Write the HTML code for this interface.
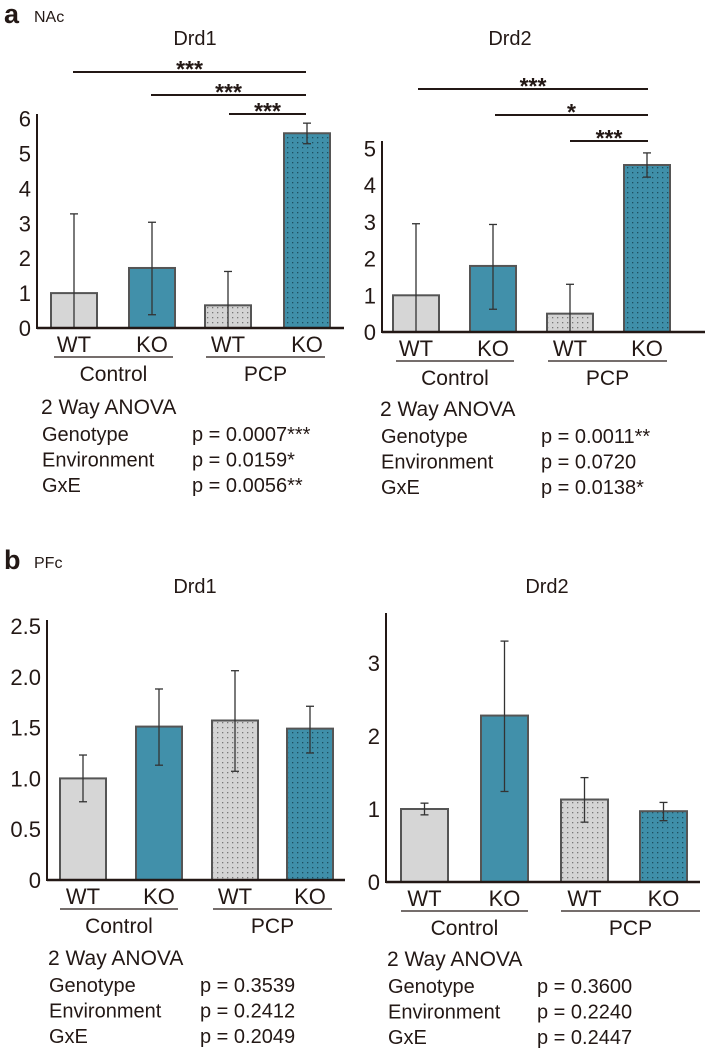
<!DOCTYPE html>
<html><head><meta charset="utf-8"><style>
html,body{margin:0;padding:0;background:#fff;}
svg{display:block;font-family:"Liberation Sans",Arial,sans-serif;}
</style></head><body>
<svg id="fig" width="708" height="1059" viewBox="0 0 708 1059" xmlns="http://www.w3.org/2000/svg">
<defs>
<pattern id="dotG" width="5" height="5" patternUnits="userSpaceOnUse"><rect width="5" height="5" fill="#d4d4d4"/><rect x="2" y="2" width="1.3" height="1.3" fill="#777"/></pattern>
<pattern id="dotB" width="5" height="5" patternUnits="userSpaceOnUse"><rect width="5" height="5" fill="#3f8fa9"/><rect x="2" y="2" width="1.3" height="1.3" fill="#1d4f60"/></pattern>
</defs>
<text x="4" y="23" font-size="27" font-weight="bold" fill="#231815">a</text>
<text x="34" y="22" font-size="16" fill="#231815">NAc</text>
<text x="4" y="569" font-size="27" font-weight="bold" fill="#231815">b</text>
<text x="34" y="568" font-size="16" fill="#231815">PFc</text>
</svg>
<script>
const groups = ["WT","KO","WT","KO"];
const nacDrd1Values = [1.0, 1.72, 0.65, 5.58];
const nacDrd1ErrLo = [0.0, 0.38, 0.0, 5.28];
const nacDrd1ErrHi = [3.27, 3.03, 1.62, 5.87];
const nacDrd1Ticks = ["0","1","2","3","4","5","6"];
const nacDrd2Values = [1.0, 1.8, 0.5, 4.55];
const nacDrd2ErrLo = [0.0, 0.62, 0.0, 4.22];
const nacDrd2ErrHi = [2.95, 2.93, 1.3, 4.88];
const nacDrd2Ticks = ["0","1","2","3","4","5"];
const pfcDrd1Values = [1.0, 1.51, 1.57, 1.49];
const pfcDrd1ErrLo = [0.77, 1.13, 1.07, 1.25];
const pfcDrd1ErrHi = [1.23, 1.88, 2.06, 1.71];
const pfcDrd1Ticks = ["0","0.5","1.0","1.5","2.0","2.5"];
const pfcDrd2Values = [1.0, 2.28, 1.13, 0.97];
const pfcDrd2ErrLo = [0.92, 1.24, 0.82, 0.84];
const pfcDrd2ErrHi = [1.08, 3.3, 1.43, 1.09];
const pfcDrd2Ticks = ["0","1","2","3"];
const nacDrd1P = ["p = 0.0007***","p = 0.0159*","p = 0.0056**"];
const nacDrd2P = ["p = 0.0011**","p = 0.0720","p = 0.0138*"];
const pfcDrd1P = ["p = 0.3539","p = 0.2412","p = 0.2049"];
const pfcDrd2P = ["p = 0.3600","p = 0.2240","p = 0.2447"];

const svg = document.getElementById('fig');
const NS = 'http://www.w3.org/2000/svg';
function mk(tag, attrs, parent){const e=document.createElementNS(NS,tag);for(const k in attrs)e.setAttribute(k,attrs[k]);(parent||svg).appendChild(e);return e;}
function txt(x,y,s,size,anchor,parent){const t=mk('text',{x:x,y:y,'font-size':size,'text-anchor':anchor||'start',fill:'#231815'},parent);t.textContent=s;return t;}

function panel(c){
  const g=mk('g',{});
  
  
  const y=v=>c.base-(v/c.tstep)*c.unit;
  const t=txt(c.titleX,c.titleY,c.title,20,'middle',g);
  
  
  c.ticks.forEach((s,i)=>{
    const tl=txt(c.ax-6,c.base-i*c.unit+8,s,22,'end',g);
    
    
  });
  const fills=['#d6d6d6','#4190aa','url(#dotG)','url(#dotB)'];
  c.vals.forEach((v,i)=>{
    const x0=c.bx[i];
    const r=mk('rect',{x:x0,y:y(v),width:c.bw,height:c.base-y(v),fill:fills[i],stroke:'#555','stroke-width':2},g);
    
    
    const cx=x0+c.bw/2;
    const e=mk('g',{stroke:'#333','stroke-width':1.3},g);
    
    
    mk('line',{x1:cx,x2:cx,y1:y(c.lo[i]),y2:y(c.hi[i])},e);
    mk('line',{x1:cx-4,x2:cx+4,y1:y(c.hi[i]),y2:y(c.hi[i])},e);
    if(c.lo[i]>0) mk('line',{x1:cx-4,x2:cx+4,y1:y(c.lo[i]),y2:y(c.lo[i])},e);
    const gl=txt(cx,c.base+24,groups[i],22,'middle',g);
    
    
  });
  const a=mk('line',{x1:c.ax,x2:c.ax,y1:c.atop,y2:c.base+1,stroke:'#231815','stroke-width':2},g);
  
  
  const b=mk('line',{x1:c.ax,x2:c.aend,y1:c.base,y2:c.base,stroke:'#231815','stroke-width':2.5},g);
  
  
  c.ul.forEach(u=>{
    mk('line',{x1:u[0],x2:u[1],y1:c.base+29,y2:c.base+29,stroke:'#231815','stroke-width':1.3},g);
    const cl=txt((u[0]+u[1])/2,c.base+53,u[2],21,'middle',g);
    
    
  });
  (c.sig||[]).forEach(s=>{
    mk('line',{x1:s[0],x2:s[1],y1:s[2],y2:s[2],stroke:'#231815','stroke-width':2},g);
    const st=txt((s[0]+s[1])/2,s[2]+5,s[3],23,'middle',g);
    st.setAttribute('font-weight','bold');
    
    
  });
  const an=c.base+c.anovaOff;
  const h=txt(c.anovaX,an,'2 Way ANOVA',21,'start',g);
  
  
  ['Genotype','Environment','GxE'].forEach((s,i)=>{
    const l=txt(c.anovaX+1,an+27+i*25.5,s,20,'start',g);
    
    
    const p=txt(c.pX,an+27+i*25.5,c.p[i],20,'start',g);
    
    
  });
}

panel({name:'nac-drd1-chart',title:'Drd1',titleX:195,titleY:45,ax:37,aend:344,atop:114,base:328,unit:34.9,tstep:1,
  ticks:nacDrd1Ticks,vals:nacDrd1Values,lo:nacDrd1ErrLo,hi:nacDrd1ErrHi,bx:[51,129,205,284],bw:46,
  ul:[[54,173,'Control'],[206,325,'PCP']],
  sig:[[73,306,72,'***'],[151,306,95,'***'],[229,306,114,'***']],anovaOff:86,anovaX:41,pX:192,p:nacDrd1P});
panel({name:'nac-drd2-chart',title:'Drd2',titleX:510,titleY:45,ax:382,aend:705,atop:141,base:332,unit:36.7,tstep:1,
  ticks:nacDrd2Ticks,vals:nacDrd2Values,lo:nacDrd2ErrLo,hi:nacDrd2ErrHi,bx:[393,470,547,624],bw:46,
  ul:[[396,514,'Control'],[548,667,'PCP']],
  sig:[[418,648,89,'***'],[495,648,115,'*'],[570,648,141,'***']],anovaOff:84,anovaX:380,pX:541,p:nacDrd2P});
panel({name:'pfc-drd1-chart',title:'Drd1',titleX:195,titleY:593,ax:47,aend:345,atop:620,base:880,unit:50.8,tstep:0.5,
  ticks:pfcDrd1Ticks,vals:pfcDrd1Values,lo:pfcDrd1ErrLo,hi:pfcDrd1ErrHi,bx:[60,136,212,287],bw:46,
  ul:[[60,178,'Control'],[213,332,'PCP']],
  sig:[],anovaOff:85,anovaX:48,pX:200,p:pfcDrd1P});
panel({name:'pfc-drd2-chart',title:'Drd2',titleX:547,titleY:593,ax:386,aend:700,atop:613,base:882,unit:73,tstep:1,
  ticks:pfcDrd2Ticks,vals:pfcDrd2Values,lo:pfcDrd2ErrLo,hi:pfcDrd2ErrHi,bx:[401,481,561,640],bw:47,
  ul:[[401,528,'Control'],[561,700,'PCP']],
  sig:[],anovaOff:84,anovaX:387,pX:537,p:pfcDrd2P});
</script>
</body></html>
